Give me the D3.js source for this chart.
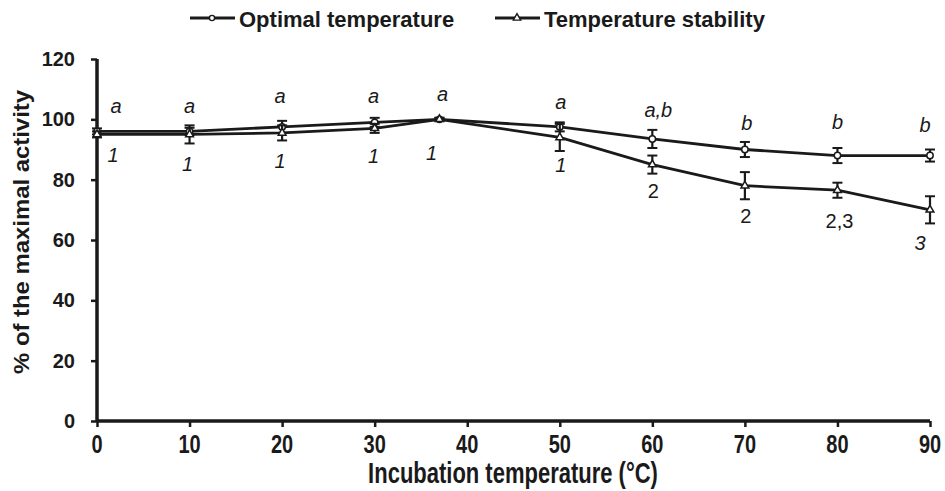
<!DOCTYPE html>
<html><head><meta charset="utf-8">
<script src="https://cdn.jsdelivr.net/npm/d3@7"></script>
<style>
body{margin:0;background:#fff;}
text{font-family:"Liberation Sans",Arial,sans-serif;fill:#1a1a1a;}
</style></head>
<body><svg id="c" width="945" height="491"></svg>
<script>
const temps = [0,10,20,30,37,50,60,70,80,90];
const optimal = [96,96,97.5,99,100,97.5,93.5,90,88,88];
const optimalErr = [1,1.2,2,1.5,0.5,1.5,3,2.5,2.5,2];
const stability = [95,95,95.5,97,100,94,85,78,76.5,70];
const stabilityErr = [1,3,2.5,1.5,0.5,4.5,3,4.5,2.5,4.5];
const letters = ["a","a","a","a","a","a","a,b","b","b","b"];
const numbers = ["1","1","1","1","1","1","2","2","2,3","3"];
const xTicks = [0,10,20,30,40,50,60,70,80,90];
const yTicks = [0,20,40,60,80,100,120];
const seriesNames = ["Optimal temperature","Temperature stability"];

const svg = d3.select("#c");
const x = d3.scaleLinear().domain([0,90]).range([97,930]);
const y = d3.scaleLinear().domain([0,120]).range([421,59]);
const col = "#1a1a1a";

// axes
const xa = svg.append("g").attr("transform","translate(0,421)")
  .call(d3.axisBottom(x).tickValues(xTicks).tickSize(6).tickFormat(""));
const ya = svg.append("g").attr("transform","translate(97,0)")
  .call(d3.axisLeft(y).tickValues(yTicks).tickSize(6).tickPadding(16).tickFormat(d3.format("d")));
[xa,ya].forEach(g=>{
  g.select(".domain").attr("stroke",col).attr("stroke-width",3.5);
  g.selectAll(".tick line").attr("stroke",col).attr("stroke-width",2.5);
});
ya.selectAll(".tick text").attr("font-size",20).attr("font-weight","bold").attr("fill",col)
  .style("font-family","'Liberation Sans', Arial, sans-serif");
xa.select(".domain").attr("d","M"+x(0)+",0H"+x(90));
ya.select(".domain").attr("d","M0,"+y(0)+"V"+y(120));

// x tick labels (vertically stretched as in reference)
svg.append("g").selectAll("text").data(xTicks).join("text")
  .attr("transform",d=>`translate(${x(d)},453) scale(1,1.33)`)
  .attr("text-anchor","middle").attr("font-size",20).attr("font-weight","bold")
  .text(d=>d3.format("d")(d));

// axis titles
svg.append("text").attr("transform","translate(513,483) scale(1,1.3)").attr("text-anchor","middle")
  .attr("font-size",22).attr("font-weight","bold")
  .text("Incubation temperature (°C)");
svg.append("text").attr("transform","translate(29,232) rotate(-90) scale(1.086,1)").attr("text-anchor","middle")
  .attr("font-size",22).attr("font-weight","bold").text("% of the maximal activity");

const line = d3.line().x(d=>x(d[0])).y(d=>y(d[1]));
function drawSeries(vals, errs, shape){
  const pts = temps.map((t,i)=>[t,vals[i],errs[i]]);
  svg.append("path").datum(pts).attr("d",line).attr("fill","none").attr("stroke",col).attr("stroke-width",2.8);
  const g = svg.append("g");
  pts.forEach(p=>{
    const cx = x(p[0]), y1=y(p[1]+p[2]), y2=y(p[1]-p[2]);
    g.append("line").attr("x1",cx).attr("x2",cx).attr("y1",y1).attr("y2",y2).attr("stroke",col).attr("stroke-width",2.2);
    g.append("line").attr("x1",cx-5).attr("x2",cx+5).attr("y1",y1).attr("y2",y1).attr("stroke",col).attr("stroke-width",2);
    g.append("line").attr("x1",cx-5).attr("x2",cx+5).attr("y1",y2).attr("y2",y2).attr("stroke",col).attr("stroke-width",2);
    if(shape==="circle"){
      g.append("circle").attr("cx",cx).attr("cy",y(p[1])).attr("r",3.2).attr("fill","#fff").attr("stroke",col).attr("stroke-width",1.5);
    } else {
      g.append("path").attr("transform",`translate(${cx},${y(p[1])})`)
        .attr("d",d3.symbol(d3.symbolTriangle,26)()).attr("fill","#fff").attr("stroke",col).attr("stroke-width",1.5);
    }
  });
}
drawSeries(optimal, optimalErr, "circle");
drawSeries(stability, stabilityErr, "triangle");

// annotations (offsets from the marks)
const letterDx = [19,0,-2,-1,3,1,6,2,0,-5];
const letterDy = [-18,-18,-24,-19,-18,-18,-22,-19.5,-26.5,-23.5];
temps.forEach((t,i)=>{
  svg.append("text").attr("x",x(t)+letterDx[i]).attr("y",y(optimal[i])+letterDy[i])
    .attr("text-anchor","middle").attr("font-size",20).attr("font-style","italic").text(letters[i]);
});
const numDx = [16,-2,-2,-1,-8,1,1,1,2,-10];
const numDy = [27.5,36.5,35,34.5,40.5,34.5,33.5,37.5,38,40];
temps.forEach((t,i)=>{
  const italic = (numbers[i]==="1"||numbers[i]==="3");
  svg.append("text").attr("x",x(t)+numDx[i]).attr("y",y(stability[i])+numDy[i])
    .attr("text-anchor","middle").attr("font-size",20).attr("font-style",italic?"italic":"normal").text(numbers[i]);
});

// legend
const leg = [{x:190,name:seriesNames[0],shape:"circle"},{x:495,name:seriesNames[1],shape:"triangle"}];
leg.forEach(l=>{
  const g = svg.append("g").attr("transform",`translate(${l.x},18)`);
  g.append("line").attr("x1",0).attr("x2",45).attr("y1",0).attr("y2",0).attr("stroke",col).attr("stroke-width",2.8);
  if(l.shape==="circle") g.append("circle").attr("cx",22).attr("cy",0).attr("r",2.6).attr("fill","#fff").attr("stroke",col).attr("stroke-width",1.4);
  else g.append("path").attr("transform","translate(22,0)").attr("d",d3.symbol(d3.symbolTriangle,24)()).attr("fill","#fff").attr("stroke",col).attr("stroke-width",1.4);
  g.append("text").attr("x",49).attr("y",9).attr("font-size",22).attr("font-weight","bold").text(l.name);
});
</script></body></html>
